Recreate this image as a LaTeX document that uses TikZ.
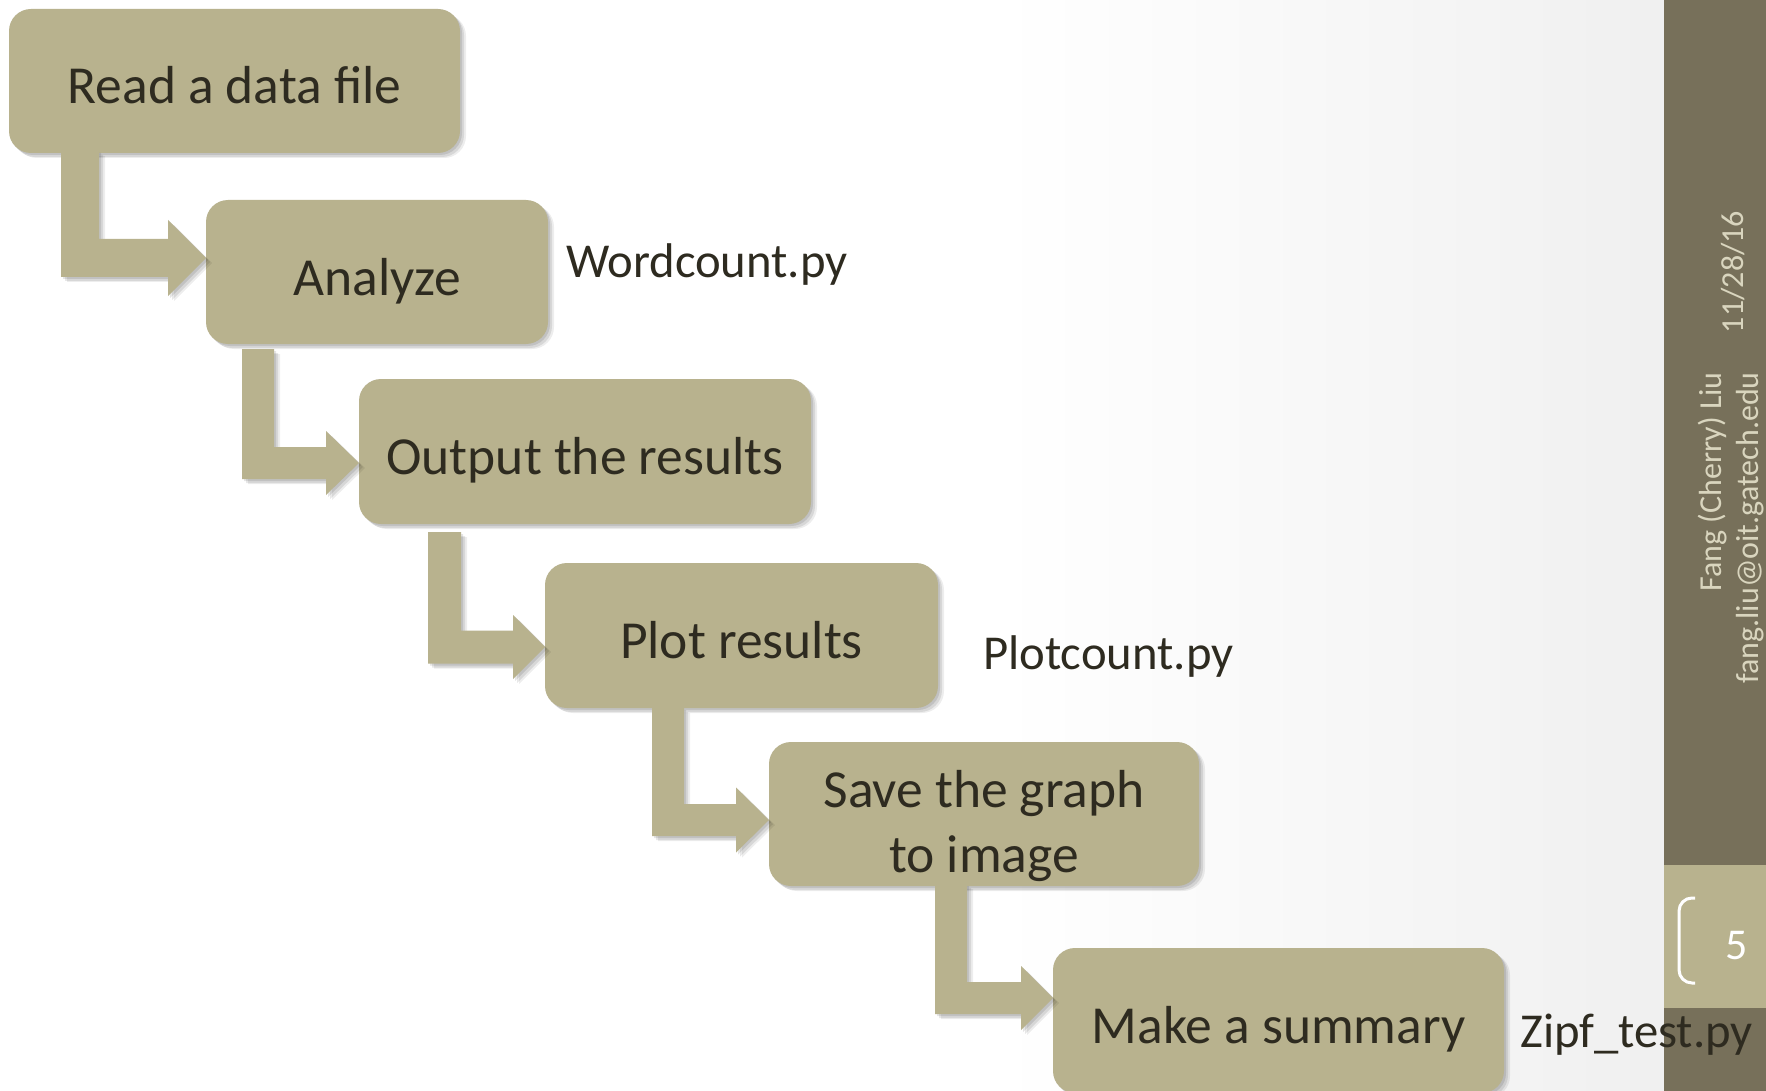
\documentclass[tikz,border=0pt]{standalone}
\usepackage{fontspec}
\setmainfont{Carlito}
\usetikzlibrary{calc,shadows}
\definecolor{boxfill}{RGB}{184,178,142}
\definecolor{sidedark}{RGB}{119,112,90}
\definecolor{sidelight}{RGB}{184,178,142}
\definecolor{txt}{RGB}{46,43,32}
\definecolor{sidetxt}{RGB}{217,213,190}
\tikzset{
 softshadow/.style={
   general shadow={fill=black,opacity=0.10,shadow xshift=2pt,shadow yshift=-2pt},
   general shadow={fill=black,opacity=0.09,shadow xshift=4pt,shadow yshift=-4pt},
   general shadow={fill=black,opacity=0.07,shadow xshift=6pt,shadow yshift=-5pt}},
 stepbox/.style={rectangle, rounded corners=22pt, fill=boxfill, softshadow,
   anchor=north west, inner sep=0pt, outer sep=0pt, text=txt,
   font=\fontsize{53.5}{65}\selectfont},
 oneline/.style={text height=46pt, text depth=0pt},
 flowarrow/.style={fill=boxfill, softshadow},
 filelabel/.style={anchor=base west, text=txt, font=\fontsize{48.7}{58}\selectfont, inner sep=0pt},
 sidelabel/.style={rotate=90, text=sidetxt, font=\fontsize{32}{38}\selectfont, inner sep=0pt},
}
% #1 src, #2 tgt, #3 shaft left x, #4 shaft width, #5 tip y,
% #6 half band, #7 half head, #8 head length, #9 gap below source
\newcommand\elbowarrow[9]{%
  \coordinate (#1#2tip) at (#2.west |- 0,#5);
  \coordinate (#1#2base) at (#3,0 |- #1.south);
  \coordinate (#1#2top) at ($(#1#2base)+(0,#9)$);
  \fill[flowarrow] (#1#2top) -- ++(#4,0) |- ($(#1#2tip)+(-#8,-#6)$)
    -- ($(#1#2tip)+(-#8,-#7)$) -- (#1#2tip) -- ($(#1#2tip)+(-#8,#7)$)
    -- ($(#1#2tip)+(-#8,#6)$) -| (#1#2top) -- cycle;
}
\begin{document}
\begin{tikzpicture}[x=1pt,y=-1pt]
\useasboundingbox (0,0) rectangle (1766,1091);
\fill[white] (0,0) rectangle (1766,1091);
\shade[left color=white,right color=black!6] (1000,0) rectangle (1664,1091);
% sidebar
\fill[sidedark] (1664,0) rectangle (1766,1091);
\fill[sidelight] (1664,865) rectangle (1766,1008);
\node[sidelabel] (date) at (1733,272) {11/28/16};
\node[sidelabel, anchor=east] (auth) at (1713,372) {Fang (Cherry) Liu};
\node[sidelabel, anchor=east] (mail) at (1750,372) {fang.liu@oit.gatech.edu};
\draw[white, line width=3pt, rounded corners=13pt] (1695,898) -- (1679,898) -- (1679,983) -- (1695,983);
\node[text=white, font=\fontsize{44}{50}\selectfont, inner sep=0pt] (pg) at (1737,946) {5};
% boxes
\node[stepbox, oneline, minimum width=451pt, minimum height=144pt] (b1) at (9,9) {Read a data file};
\node[stepbox, oneline, minimum width=342pt, minimum height=144pt] (b2) at (206,200) {Analyze};
\node[stepbox, oneline, minimum width=452pt, minimum height=145pt] (b3) at (359,379) {Output the results};
\node[stepbox, oneline, minimum width=393pt, minimum height=145pt] (b4) at (545,563) {Plot results};
\node[stepbox, align=center, minimum width=430pt, minimum height=144pt] (b5) at (769,742) {\rule{0pt}{62pt}Save the graph\\to image};
\node[stepbox, oneline, minimum width=451pt, minimum height=145pt] (b6) at (1053,948) {Make a summary};
% arrows
\elbowarrow{b1}{b2}{61}{38}{258}{19}{38}{38}{-2}
\elbowarrow{b2}{b3}{242}{32}{463}{16}{32}{33}{5}
\elbowarrow{b3}{b4}{428}{33}{647}{16.5}{32}{32}{8}
\elbowarrow{b4}{b5}{652}{32}{820}{16}{32.5}{33}{0}
\elbowarrow{b5}{b6}{935}{32}{998}{16}{32}{32}{-2}
% file labels
\node[filelabel] (wc) at (566,278) {Wordcount.py};
\node[filelabel] (pc) at (983,669) {Plotcount.py};
\node[filelabel] (zt) at (1520,1047) {Zipf\_test.py};
\end{tikzpicture}
\end{document}
